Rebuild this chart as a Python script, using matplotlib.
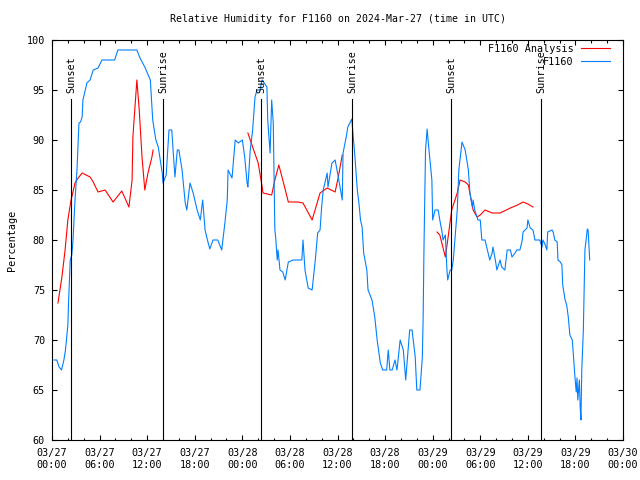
import numpy as np
import matplotlib
matplotlib.use("Agg")
import matplotlib.pyplot as plt

# hours since 2024-03-27 00:00 UTC
obs_hours = [
    0.25, 0.6, 0.9, 1.2, 1.5, 1.7, 2.0, 2.1, 2.3, 2.5, 2.65, 2.9, 3.15, 3.4, 3.6, 3.8, 3.9,
    4.4, 4.8, 5.2, 5.8, 6.3, 7.9, 8.3, 10.7, 11.1, 11.7, 12.4, 12.7, 13.1, 13.4, 13.9, 14.0,
    14.4, 14.75, 15.1, 15.5, 15.8, 16.0, 16.4, 16.8, 17.0, 17.4, 17.8, 18.3, 18.7, 19.0, 19.3,
    19.6, 19.9, 20.3, 20.9, 21.4, 21.8, 22.1, 22.2, 22.7, 23.1, 23.5, 24.0, 24.3, 24.6, 24.7,
    25.0, 25.3, 25.6, 25.85, 26.2, 26.5, 27.1, 27.2, 27.5, 27.7, 27.9, 28.1, 28.2, 28.4, 28.5,
    28.75, 29.1, 29.4, 29.8, 30.4, 30.9, 31.5, 31.65, 31.9, 32.3, 32.8, 33.2, 33.5, 33.8, 34.0,
    34.2, 34.7, 34.8, 35.3, 35.7, 36.1, 36.6, 36.7, 37.1, 37.3, 37.8, 38.2, 38.5, 38.7, 38.9,
    39.1, 39.3, 39.7, 39.85, 40.35, 40.7, 41.0, 41.4, 41.7, 42.2, 42.4, 42.6, 42.9, 43.25, 43.5,
    43.9, 44.3, 44.6, 45.1, 45.4, 45.8, 46.0, 46.4, 46.7, 46.8, 46.9, 47.0, 47.1, 47.3, 47.5,
    47.9, 48.0, 48.3, 48.7, 48.9, 49.2, 49.3, 49.6, 49.8, 49.9, 50.2, 50.4, 50.6, 50.8, 51.1,
    51.3, 51.7, 52.1, 52.5, 52.7, 53.0, 53.1, 53.3, 53.6, 53.7, 54.0, 54.2, 54.6, 54.9, 55.2,
    55.5, 55.6, 55.9, 56.1, 56.5, 56.7, 57.1, 57.4, 57.8, 58.0, 58.4, 58.6, 59.0, 59.3, 59.4,
    59.9, 60.0, 60.3, 60.65, 60.9, 61.5, 61.8, 61.9, 62.2, 62.4, 62.5, 63.05, 63.2, 63.4, 63.7,
    63.8, 64.1, 64.3, 64.4, 64.7, 64.9, 65.1, 65.3, 65.6, 65.7, 65.95, 66.1, 66.2, 66.3, 66.5,
    66.6, 66.7, 66.8, 67.0, 67.2, 67.5, 67.6, 67.8,
]
obs_rh = [
    68, 68, 67.3, 67, 68, 69, 71.5, 74, 78, 78.5, 80, 84, 87, 91.7, 91.8, 92.3, 94,
    95.7, 96, 97, 97.2, 98, 98, 99, 99, 98.2, 97.3, 96, 92, 90, 89.3, 86.7, 85.7,
    86.5, 91, 91, 86.3, 89, 89, 87, 83.7, 83, 85.7, 84.7, 83, 82, 84, 81,
    80, 79.1, 80, 80, 79, 81.7, 84, 87, 86.2, 90, 89.7, 90, 88.3, 85.7, 85.3,
    89, 91, 94.3, 95, 95, 96, 95.3, 92, 88.7, 94, 91.7, 81, 80.3, 78, 79,
    77, 76.8, 76, 77.8, 78, 78, 78, 80, 77, 75.2, 75, 78, 80.7, 81, 83.3,
    85, 86.7, 85.3, 87.7, 88, 86.3, 84, 88.7, 90.3, 91.3, 92.1, 88.3, 85, 83.7, 82,
    81.3, 78.7, 77, 75, 74, 72.3, 70, 67.7, 67, 67, 69, 67, 67, 68, 67,
    70, 69, 66, 71, 71, 68.3, 65, 65, 68.3, 72.3, 79, 84, 89, 91.1, 89.3,
    86, 82, 83, 83, 82, 80.7, 80, 80.5, 77, 76, 77, 77, 78, 80, 83,
    87, 89.8, 89, 87, 84.7, 83.3, 84, 83, 82.3, 82, 82, 80, 80, 79, 78,
    78.7, 79.3, 78, 77, 78, 77.3, 77, 79, 79, 78.3, 78.7, 79, 79, 80, 80.8,
    81.2, 82, 81.2, 81, 80, 80, 79.3, 80, 79.5, 79, 80.8, 81, 80.8, 80, 79.8,
    78, 77.8, 77.5, 75.5, 74, 73.5, 72.3, 70.5, 70, 69, 66.2, 64.8, 66.2, 64, 66,
    63.3, 62, 67, 71, 79, 81.1, 81, 78,
]

# analysis series, NaN marks the gaps between runs
ana_hours = [
    0.75, 1.25, 1.65, 2.0, 2.4, 2.5, 2.9, 3.3, 3.8, 4.8, 5.2, 5.8, 6.7, 7.7, 8.8, 9.7,
    10.1, 10.2, 10.7, 11.0, 11.35, 11.7, 12.1, 12.6, 12.75, 13.0,
    24.7, 25.3, 26.0, 26.5, 26.6, 27.7, 28.1, 28.6, 29.1, 29.8, 31.0, 31.65, 32.8, 33.8,
    34.7, 35.7, 36.1, 36.6, 37.0,
    48.55, 48.9, 49.6, 49.9, 50.4, 51.1, 51.45, 52.1, 52.5, 53.1, 53.6, 54.0, 54.6, 55.5,
    56.5, 57.8, 58.7, 59.4, 60.0, 60.65,
]
ana_rh = [
    73.7, 76.3, 79, 82, 84, 84.3, 85.7, 86.2, 86.7, 86.3, 85.8, 84.8, 85, 83.8, 84.9, 83.3,
    86, 90.3, 96, 93, 88.3, 85, 86.7, 88.3, 89, np.nan,
    90.7, 89.3, 87.7, 85.3, 84.7, 84.5, 86, 87.5, 86, 83.8, 83.8, 83.7, 82, 84.7,
    85.2, 84.8, 86.3, 88.5, np.nan,
    80.8, 80.5, 78.3, 80, 83, 84.7, 86, 85.8, 85.5, 83, 82.3, 82.5, 83, 82.7,
    82.7, 83.2, 83.5, 83.8, 83.6, 83.3,
]

events = ["Sunset", "Sunrise", "Sunset", "Sunrise", "Sunset", "Sunrise"]
event_hours = [2.4, 14.0, 26.35, 37.85, 50.3, 61.7]

tick_hours = list(range(0, 73, 6))
tick_labels = [
    "03/27\n00:00", "03/27\n06:00", "03/27\n12:00", "03/27\n18:00",
    "03/28\n00:00", "03/28\n06:00", "03/28\n12:00", "03/28\n18:00",
    "03/29\n00:00", "03/29\n06:00", "03/29\n12:00", "03/29\n18:00",
    "03/30\n00:00",
]

plt.rcParams["font.family"] = "DejaVu Sans Mono"
plt.rcParams["font.size"] = 7.3

fig = plt.figure(figsize=(6.4, 4.8), dpi=100)
ax = fig.add_axes([52 / 640, 40 / 480, 571 / 640, 400 / 480])

ax.plot(ana_hours, ana_rh, color="#ff0000", lw=0.8, label="F1160 Analysis")
ax.plot(obs_hours, obs_rh, color="#0080ff", lw=0.8, label="F1160")

for name, h in zip(events, event_hours):
    ax.plot([h, h], [60, 94.1], color="black", lw=0.8)
    ax.text(h, 94.7, name, rotation=90, ha="center", va="bottom")

ax.set_xlim(0, 72)
ax.set_ylim(60, 100)
ax.set_xticks(tick_hours)
ax.set_xticklabels(tick_labels, linespacing=1.25)
ax.set_xticks(range(0, 73, 2), minor=True)
ax.set_yticks(range(60, 101, 5))
ax.tick_params(which="both", direction="in", top=True, right=True)
ax.tick_params(axis="x", which="both", pad=6)
ax.tick_params(axis="y", which="both", pad=5)
ax.tick_params(which="major", length=3.5, width=0.8)
ax.tick_params(which="minor", length=1.8, width=0.8)
for s in ax.spines.values():
    s.set_linewidth(0.8)

ax.set_ylabel("Percentage", labelpad=7)
ax.set_title("Relative Humidity for F1160 on 2024-Mar-27 (time in UTC)",
             fontsize=7.1, pad=13)

ax.legend(loc="upper right", bbox_to_anchor=(0.977, 0.99), frameon=False,
          markerfirst=False, handlelength=2.8, borderaxespad=0, borderpad=0,
          labelspacing=0.25, handletextpad=0.8)

fig.savefig("out.png", dpi=100)
